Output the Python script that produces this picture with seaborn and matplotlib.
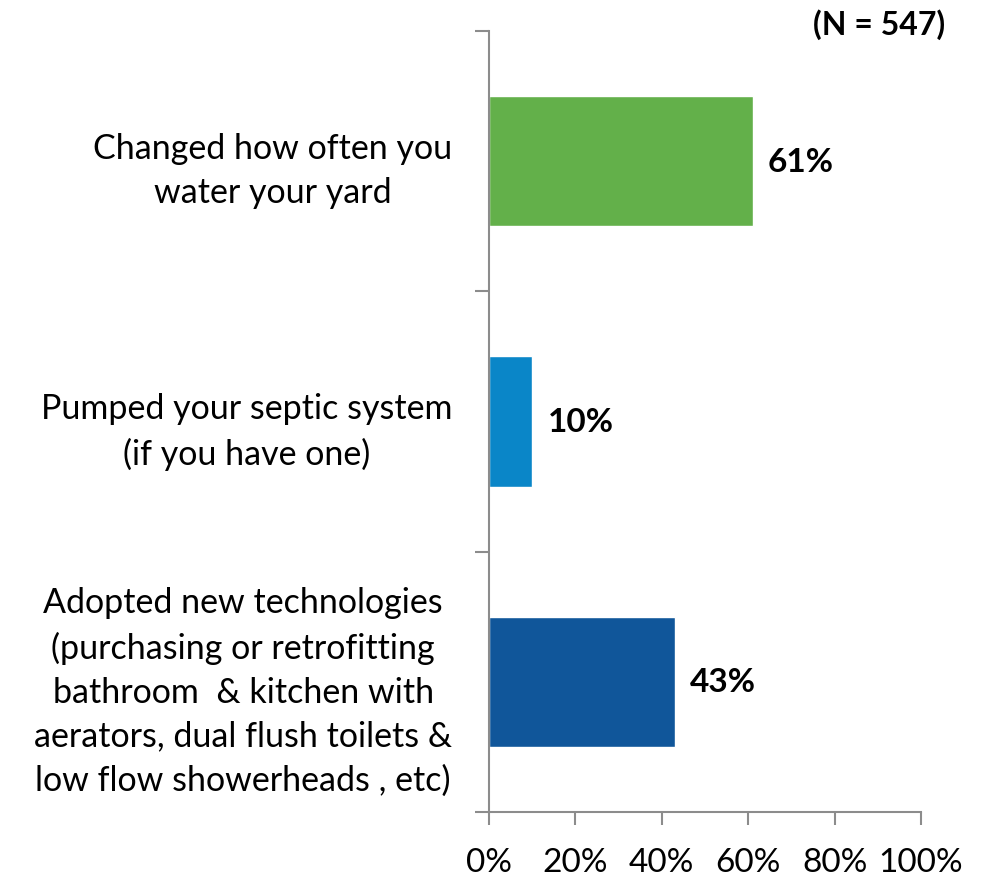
import matplotlib
matplotlib.use("Agg")
import matplotlib.pyplot as plt
import seaborn as sns
import pandas as pd
from matplotlib.ticker import FixedLocator, PercentFormatter

categories = [
    "Changed how often you\nwater your yard",
    "Pumped your septic system\n(if you have one)",
    "Adopted new technologies\n(purchasing or retrofitting\nbathroom  & kitchen with\naerators, dual flush toilets &\nlow flow showerheads , etc)",
]
values = [61, 10, 43]
colors = ["#63B04A", "#0A86C8", "#10569A"]
ticks = [0, 20, 40, 60, 80, 100]

sns.set_theme(style="white")
plt.rcParams["font.family"] = ["Lato", "DejaVu Sans"]

df = pd.DataFrame({"cat": categories, "val": values})

fig = plt.figure(figsize=(9.84, 8.78), dpi=100)
ax = fig.add_axes([0.497, 0.074, 0.439, 0.8896])
sns.barplot(data=df, x="val", y="cat", hue="cat", palette=colors, width=0.5,
            legend=False, ax=ax, saturation=1)

ax.set_xlim(0, 100)
ax.set_ylim(2.5, -0.5)
ax.xaxis.set_major_locator(FixedLocator(ticks))
ax.xaxis.set_major_formatter(PercentFormatter(decimals=0))
ax.set_xlabel("")
ax.set_ylabel("")

for s in ["top", "right"]:
    ax.spines[s].set_visible(False)
for s in ["left", "bottom"]:
    ax.spines[s].set_color("#8C8C8C")
    ax.spines[s].set_linewidth(1.5)

ax.tick_params(axis="x", which="major", direction="out", length=9, width=1.5,
               color="#8C8C8C", labelsize=24, pad=16, bottom=True,
               labelcolor="black")
ax.tick_params(axis="y", which="major", length=0, labelsize=24.5, pad=26.5,
               labelcolor="black")
ax.yaxis.set_minor_locator(FixedLocator([-0.5, 0.5, 1.5, 2.5]))
ax.tick_params(axis="y", which="minor", direction="out", length=10, width=1.5,
               color="#8C8C8C", left=True)
for lab in ax.get_yticklabels():
    lab.set_horizontalalignment("right")
    lab.set_multialignment("center")
    lab.set_linespacing(1.46)

for i, v in enumerate(values):
    ax.text(v + 3.6, i, f"{v}%", va="center", ha="left", fontsize=24,
            fontweight="bold", color="black")

fig.text(0.96, 0.972, "(N = 547)", ha="right", va="center", fontsize=23,
         fontweight="bold", color="black")

fig.savefig("out.png", dpi=100)
